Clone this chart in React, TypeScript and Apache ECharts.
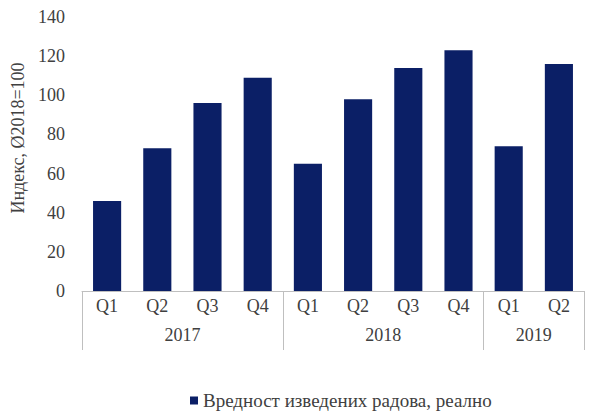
import React, { useEffect, useRef } from "react";
import * as echarts from "echarts";

const quarters = ["Q1", "Q2", "Q3", "Q4", "Q1", "Q2", "Q3", "Q4", "Q1", "Q2"];
const values = [46, 73, 96, 109, 65, 98, 114, 123, 74, 116];
const years = ["2017", "2018", "2019"];
const yearCenters = [2, 6, 9];
const yearBounds = [0, 4, 8, 10];
const seriesName = "Вредност изведених радова, реално";
const yAxisName = "Индекс, Ø2018=100";

const FONT = "'Liberation Serif', 'Times New Roman', serif";
const FS = 18;
const TXT = "#404040";

export default function App() {
  const ref = useRef<HTMLDivElement>(null);
  useEffect(() => {
    if (!ref.current) return;
    const chart = echarts.init(ref.current, null, { renderer: "svg" });
    chart.setOption({
      animation: false,
      textStyle: { fontFamily: FONT },
      grid: { left: 82, right: 21, top: 17, bottom: 128, containLabel: false },
      legend: {
        top: 386,
        left: 185,
        itemWidth: 8,
        itemHeight: 8,
        icon: "rect",
        itemGap: 4,
        textStyle: { fontFamily: FONT, fontSize: 19, color: TXT },
        data: [seriesName],
      },
      xAxis: [
        {
          type: "category",
          data: quarters,
          axisLine: { lineStyle: { color: "#bfbfbf" } },
          axisTick: { show: false },
          axisLabel: { color: TXT, fontSize: FS, fontFamily: FONT, margin: 6, interval: 0 },
        },
        {
          type: "value",
          min: 0,
          max: 10,
          position: "bottom",
          splitLine: { show: false },
          axisLine: { show: false },
          axisTick: {
            show: true,
            length: 59,
            customValues: yearBounds,
            lineStyle: { color: "#bfbfbf" },
          },
          axisLabel: {
            customValues: yearCenters,
            margin: 35,
            color: TXT,
            fontSize: FS,
            fontFamily: FONT,
            formatter: (v: number) => {
              const i = yearCenters.indexOf(v);
              return i >= 0 ? years[i] : "";
            },
          },
        },
      ],
      yAxis: {
        type: "value",
        min: 0,
        max: 140,
        interval: 20,
        name: yAxisName,
        nameLocation: "middle",
        nameGap: 54,
        nameTextStyle: { color: TXT, fontSize: 18, fontFamily: FONT, padding: [0, 0, 0, 32] },
        axisLine: { show: false },
        axisTick: { show: false },
        splitLine: { show: false },
        axisLabel: { color: TXT, fontSize: FS, fontFamily: FONT, margin: 17 },
      },
      series: [
        {
          name: seriesName,
          type: "bar",
          xAxisIndex: 0,
          data: values,
          barCategoryGap: "44%",
          itemStyle: { color: "#0b1f66" },
        },
      ],
    });
    return () => chart.dispose();
  }, []);
  return <div ref={ref} style={{ width: 605, height: 419, margin: -8 }} />;
}
